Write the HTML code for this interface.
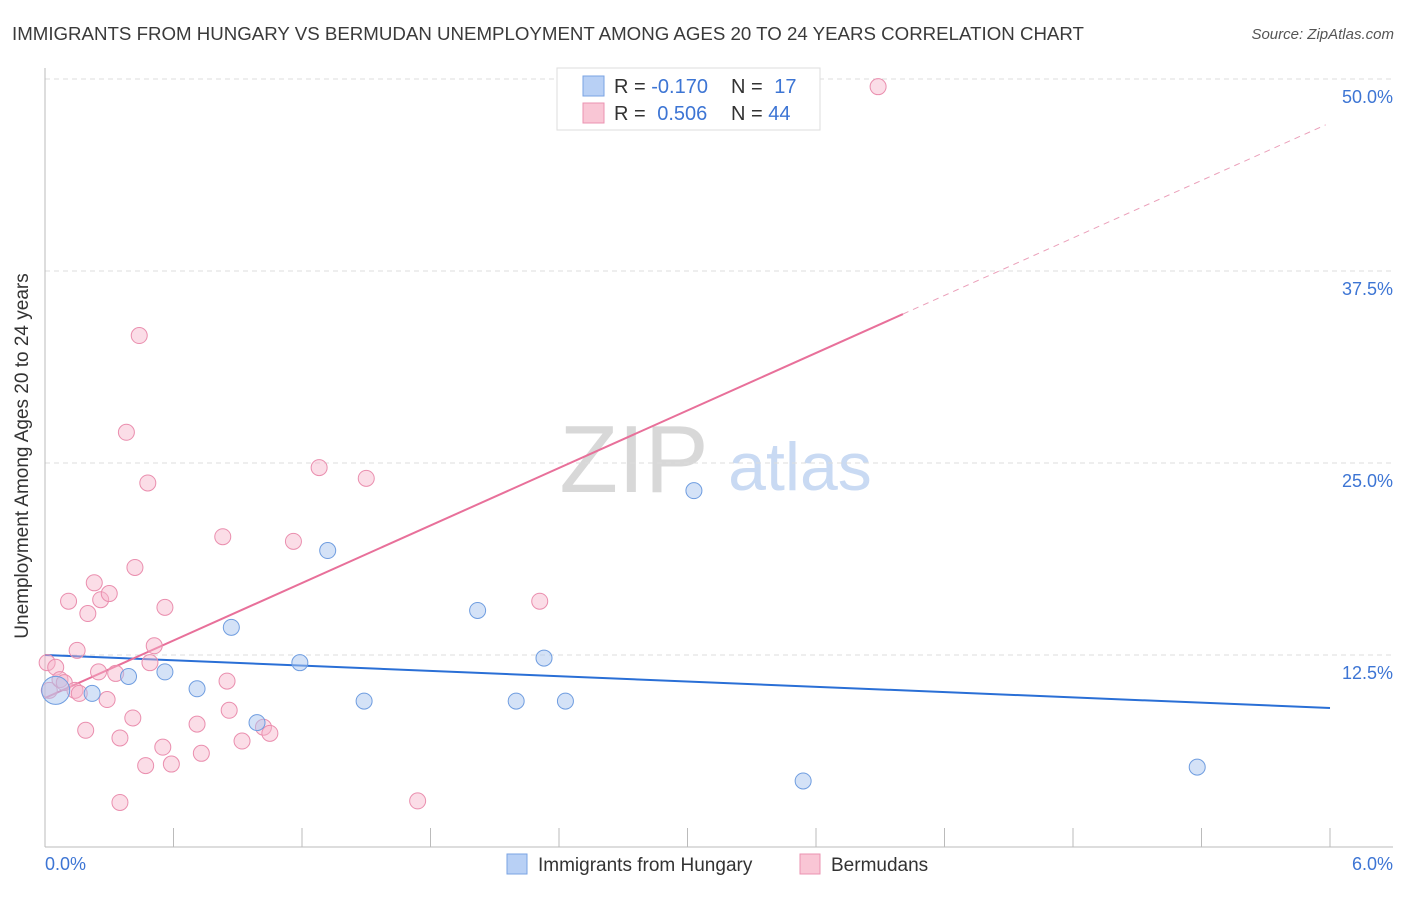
<!DOCTYPE html>
<html><head><meta charset="utf-8"><style>
body{margin:0;background:#fff;font-family:"Liberation Sans",sans-serif;}
svg text{font-family:"Liberation Sans",sans-serif;}
</style></head><body>
<svg id="chart" width="1406" height="892">
<text x="12" y="40" font-size="18.7" fill="#3a3a3a">IMMIGRANTS FROM HUNGARY VS BERMUDAN UNEMPLOYMENT AMONG AGES 20 TO 24 YEARS CORRELATION CHART</text>
<text x="1394" y="39" font-size="15" fill="#555" text-anchor="end" font-style="italic">Source: ZipAtlas.com</text>
<text x="634" y="492" font-size="96" fill="#d8d8d8" font-family="Liberation Serif" text-anchor="middle">ZIP</text>
<text x="800" y="490" font-size="68" fill="#c9daf3" text-anchor="middle">atlas</text>
<text x="28" y="456" font-size="19" fill="#333" text-anchor="middle" transform="rotate(-90 28 456)">Unemployment Among Ages 20 to 24 years</text>
<g id="grid"></g><g id="lines"></g><g id="pts"></g>
<g>
<rect x="557" y="68" width="263" height="62" fill="#fff" stroke="#ddd"/>
<rect x="583" y="76" width="21" height="20" fill="#b8d0f5" stroke="#7aa3e3"/>
<rect x="583" y="103" width="21" height="20" fill="#f9c6d5" stroke="#eb93b1"/>
<text x="614" y="93" font-size="20" fill="#333">R = <tspan fill="#3d75d4">-0.170</tspan></text>
<text x="731" y="93" font-size="20" fill="#333">N = <tspan fill="#3d75d4" dx="6">17</tspan></text>
<text x="614" y="120" font-size="20" fill="#333">R = <tspan fill="#3d75d4" dx="6">0.506</tspan></text>
<text x="731" y="120" font-size="20" fill="#333">N = <tspan fill="#3d75d4">44</tspan></text>
</g>
<g>
<rect x="507" y="854" width="20" height="20" fill="#b8d0f5" stroke="#7aa3e3"/>
<text x="538" y="871" font-size="19" fill="#333">Immigrants from Hungary</text>
<rect x="800" y="854" width="20" height="20" fill="#f9c6d5" stroke="#eb93b1"/>
<text x="831" y="871" font-size="19" fill="#333">Bermudans</text>
</g>
</svg>
<script>
const blueX=[0.05,0.22,0.39,0.56,0.71,0.87,0.99,1.19,1.32,1.49,2.02,2.20,2.33,2.43,3.03,3.54,5.38];
const blueY=[10.2,10.0,11.1,11.4,10.3,14.3,8.1,12.0,19.3,9.5,15.4,9.5,12.3,9.5,23.2,4.3,5.2];
const pinkX=[0.01,0.05,0.02,0.07,0.09,0.11,0.14,0.15,0.16,0.19,0.20,0.23,0.25,0.26,0.29,0.30,0.33,0.35,0.35,0.38,0.41,0.42,0.44,0.47,0.48,0.49,0.51,0.55,0.56,0.59,0.71,0.73,0.83,0.85,0.86,0.92,1.02,1.05,1.16,1.28,1.50,1.74,2.31,3.89];
const pinkY=[12.0,11.7,10.2,10.9,10.7,16.0,10.2,12.8,10.0,7.6,15.2,17.2,11.4,16.1,9.6,16.5,11.3,2.9,7.1,27.0,8.4,18.2,33.3,5.3,23.7,12.0,13.1,6.5,15.6,5.4,8.0,6.1,20.2,10.8,8.9,6.9,7.8,7.4,19.9,24.7,24.0,3.0,16.0,49.5];
const blueTrend=[12.5,-0.575];
const pinkTrend=[9.7,6.24];
const yTicks=[12.5,25,37.5,50];
const yTickLabels=["12.5%","25.0%","37.5%","50.0%"];
const xTickCount=10;
const NS="http://www.w3.org/2000/svg";
const X=v=>45+v*1285/6, Y=v=>847-v*15.36;
function mk(t,a,p){const e=document.createElementNS(NS,t);for(const k in a)e.setAttribute(k,a[k]);document.getElementById(p).appendChild(e);return e;}
let e;
e=mk('line',{x1:45,x2:1393,y1:79,y2:79,stroke:'#ddd','stroke-dasharray':'5,4'},'grid');


yTicks.forEach((t,i)=>{
 e=mk('line',{x1:45,x2:1393,y1:Y(t),y2:Y(t),stroke:'#ddd','stroke-dasharray':'5,4'},'grid');
 
 
 e=mk('text',{x:1393,y:Y(t)+24,'font-size':18,fill:'#3d75d4','text-anchor':'end'},'grid');e.textContent=yTickLabels[i];
 
 
});
e=mk('line',{x1:45,x2:45,y1:68,y2:847,stroke:'#bbb'},'grid');


e=mk('line',{x1:45,x2:1393,y1:847,y2:847,stroke:'#bbb'},'grid');


for(let i=0;i<=xTickCount;i++){const v=6*i/xTickCount;
 e=mk('line',{x1:X(v),x2:X(v),y1:828,y2:847,stroke:'#bbb'},'grid');
 
 }
e=mk('text',{x:45,y:870,'font-size':18,fill:'#3d75d4'},'grid');e.textContent='0.0%';


e=mk('text',{x:1393,y:870,'font-size':18,fill:'#3d75d4','text-anchor':'end'},'grid');e.textContent='6.0%';


e=mk('line',{x1:X(0),y1:Y(blueTrend[0]),x2:X(6),y2:Y(blueTrend[0]+6*blueTrend[1]),stroke:'#2a6fd6','stroke-width':2},'lines');


const pe=4.006, pd=5.98;
e=mk('line',{x1:X(0),y1:Y(pinkTrend[0]),x2:X(pe),y2:Y(pinkTrend[0]+pinkTrend[1]*pe),stroke:'#e8709a','stroke-width':2},'lines');


e=mk('line',{x1:X(pe),y1:Y(pinkTrend[0]+pinkTrend[1]*pe),x2:X(pd),y2:Y(pinkTrend[0]+pinkTrend[1]*pd),stroke:'#eba0ba','stroke-width':1,'stroke-dasharray':'6,5'},'lines');


pinkX.forEach((x,i)=>{
 e=mk('circle',{cx:X(x),cy:Y(pinkY[i]),r:8,fill:'rgba(246,180,202,0.45)',stroke:'#ea8eae','stroke-width':1},'pts');
 
 
});
blueX.forEach((x,i)=>{
 e=mk('circle',{cx:X(x),cy:Y(blueY[i]),r:i==0?14:8,fill:'rgba(170,198,240,0.5)',stroke:'#6f9de0','stroke-width':1},'pts');
 
 
});
</script>
</body></html>
